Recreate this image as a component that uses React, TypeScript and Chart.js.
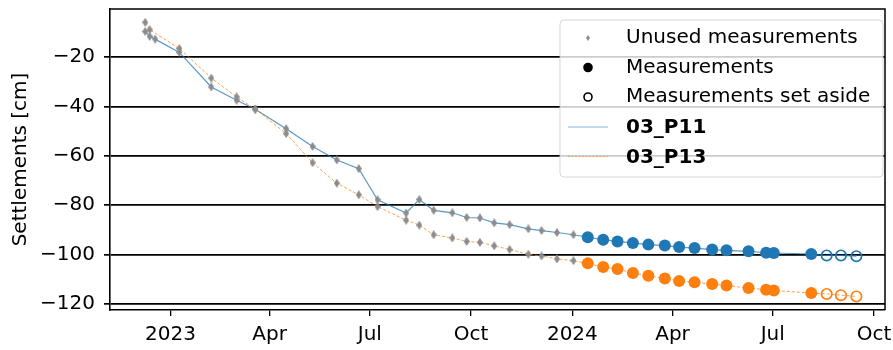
import { useEffect, useRef } from 'react';
import { Chart, registerables } from 'chart.js';

Chart.register(...registerables);

const FONT = "'DejaVu Sans', 'Liberation Sans', sans-serif";
const FS = 20;

// ---------- data ----------
const xTickDates = ['2023-01-01', '2023-04-01', '2023-07-01', '2023-10-01', '2024-01-01', '2024-04-01', '2024-07-01', '2024-10-01'];
const xTickLabels = ['2023', 'Apr', 'Jul', 'Oct', '2024', 'Apr', 'Jul', 'Oct'];
const yTickValues = [-120, -100, -80, -60, -40, -20];
const xRange = ['2022-11-07', '2024-10-11'];
const yRange = [-122.5, -0.5];

const p11Dates = [
  '2022-12-09', '2022-12-13', '2022-12-18', '2023-01-09', '2023-02-07', '2023-03-02', '2023-03-19',
  '2023-04-16', '2023-05-10', '2023-06-01', '2023-06-21', '2023-07-08', '2023-08-03', '2023-08-15',
  '2023-08-28', '2023-09-14', '2023-09-27', '2023-10-09', '2023-10-22', '2023-11-05', '2023-11-22',
  '2023-12-04', '2023-12-18', '2024-01-02',
  '2024-01-15', '2024-01-29', '2024-02-11', '2024-02-25', '2024-03-10', '2024-03-25', '2024-04-07',
  '2024-04-21', '2024-05-07', '2024-05-20', '2024-06-09', '2024-06-25', '2024-07-02', '2024-08-05',
  '2024-08-19', '2024-09-01', '2024-09-15',
];
const p11Values = [
  -9.6, -11.6, -12.7, -18.1, -32.1, -37.5, -41.1,
  -49.0, -56.2, -61.7, -65.2, -77.8, -83.2, -77.7,
  -82.1, -83.1, -85.0, -85.2, -87.2, -87.9, -89.6,
  -90.3, -91.1, -92.0,
  -93.0, -94.0, -94.7, -95.3, -96.0, -96.4, -97.0,
  -97.4, -98.0, -98.3, -98.7, -99.3, -99.4, -99.8,
  -100.4, -100.4, -100.7,
];
const p13Dates = [
  '2022-12-09', '2022-12-13', '2023-01-09', '2023-02-07', '2023-03-02', '2023-03-19',
  '2023-04-16', '2023-05-10', '2023-06-01', '2023-06-21', '2023-07-08', '2023-08-03', '2023-08-15',
  '2023-08-28', '2023-09-14', '2023-09-27', '2023-10-09', '2023-10-22', '2023-11-05', '2023-11-22',
  '2023-12-04', '2023-12-18', '2024-01-02',
  '2024-01-15', '2024-01-29', '2024-02-11', '2024-02-25', '2024-03-10', '2024-03-25', '2024-04-07',
  '2024-04-21', '2024-05-07', '2024-05-20', '2024-06-09', '2024-06-25', '2024-07-02', '2024-08-05',
  '2024-08-19', '2024-09-01', '2024-09-15',
];
const p13Values = [
  -5.9, -8.9, -16.5, -28.5, -36.1, -41.1,
  -51.0, -62.8, -71.1, -75.8, -80.6, -86.1, -88.1,
  -92.0, -93.3, -94.7, -95.1, -96.5, -98.0, -99.9,
  -100.6, -101.8, -102.5,
  -103.6, -105.1, -105.9, -107.5, -108.6, -109.7, -110.7,
  -111.3, -112.0, -112.6, -113.6, -114.3, -114.6, -115.6,
  -116.0, -116.5, -117.0,
];
const p11UnusedCount = 24;
const p13UnusedCount = 23;
const setAsideCount = 3;

const legendLabels = ['Unused measurements', 'Measurements', 'Measurements set aside', '03_P11', '03_P13'];
const axisTitle = 'Settlements [cm]';

// ---------- styles ----------
const BLUE = '#1f77b4';
const ORANGE = '#ff7f0e';
const GRAY = '#8c8c8c';

const toMs = (s: string) => Date.parse(s + 'T00:00:00Z');
const pts = (dates: string[], values: number[]) => dates.map((d, i) => ({ x: toMs(d), y: values[i] }));

function makeDiamond(w: number, h: number, color: string) {
  const c = document.createElement('canvas');
  c.width = w;
  c.height = h;
  const g = c.getContext('2d')!;
  g.fillStyle = color;
  g.beginPath();
  g.moveTo(w / 2, 0);
  g.lineTo(w, h / 2);
  g.lineTo(w / 2, h);
  g.lineTo(0, h / 2);
  g.closePath();
  g.fill();
  return c;
}

const framePlugin = {
  id: 'frame',
  afterDatasetsDraw(chart: any) {
    const { ctx, chartArea: a } = chart;
    ctx.save();
    ctx.strokeStyle = '#000';
    ctx.lineWidth = 1.5;
    ctx.beginPath();
    ctx.moveTo(a.left, a.top);
    ctx.lineTo(a.right, a.top);
    ctx.lineTo(a.right, a.bottom);
    ctx.stroke();
    ctx.restore();
  },
};

const legendPlugin = {
  id: 'customLegend',
  afterDraw(chart: any) {
    const { ctx } = chart;
    const bx = 560, by = 20, bw = 323, bh = 157, r = 4;
    ctx.save();
    ctx.beginPath();
    ctx.moveTo(bx + r, by);
    ctx.lineTo(bx + bw - r, by);
    ctx.quadraticCurveTo(bx + bw, by, bx + bw, by + r);
    ctx.lineTo(bx + bw, by + bh - r);
    ctx.quadraticCurveTo(bx + bw, by + bh, bx + bw - r, by + bh);
    ctx.lineTo(bx + r, by + bh);
    ctx.quadraticCurveTo(bx, by + bh, bx, by + bh - r);
    ctx.lineTo(bx, by + r);
    ctx.quadraticCurveTo(bx, by, bx + r, by);
    ctx.closePath();
    ctx.fillStyle = 'rgba(255,255,255,0.8)';
    ctx.fill();
    ctx.strokeStyle = 'rgba(204,204,204,0.8)';
    ctx.lineWidth = 1;
    ctx.stroke();

    const rows = [38, 67.5, 97, 128, 157.5];
    const mx = 588;
    // markers
    ctx.fillStyle = GRAY;
    ctx.beginPath();
    ctx.moveTo(mx, rows[0] - 3);
    ctx.lineTo(mx + 2, rows[0]);
    ctx.lineTo(mx, rows[0] + 3);
    ctx.lineTo(mx - 2, rows[0]);
    ctx.closePath();
    ctx.fill();

    ctx.fillStyle = '#000';
    ctx.beginPath();
    ctx.arc(mx, rows[1], 4.8, 0, Math.PI * 2);
    ctx.fill();

    ctx.strokeStyle = '#000';
    ctx.lineWidth = 1.6;
    ctx.beginPath();
    ctx.arc(mx, rows[2], 4, 0, Math.PI * 2);
    ctx.stroke();

    ctx.strokeStyle = 'rgba(31,119,180,0.55)';
    ctx.lineWidth = 1.2;
    ctx.beginPath();
    ctx.moveTo(568, rows[3] - 1);
    ctx.lineTo(608, rows[3] - 1);
    ctx.stroke();

    ctx.strokeStyle = 'rgba(255,127,14,0.6)';
    ctx.setLineDash([2, 1.5]);
    ctx.beginPath();
    ctx.moveTo(568, rows[4] - 1);
    ctx.lineTo(608, rows[4] - 1);
    ctx.stroke();
    ctx.setLineDash([]);

    // labels
    ctx.fillStyle = '#000';
    ctx.textAlign = 'left';
    ctx.textBaseline = 'middle';
    legendLabels.forEach((t, i) => {
      ctx.font = (i >= 3 ? 'bold ' : '') + FS + 'px ' + FONT;
      ctx.fillText(t, 626, rows[i]);
    });
    ctx.restore();
  },
};

export default function App() {
  const ref = useRef<HTMLCanvasElement | null>(null);

  useEffect(() => {
    if (!ref.current) return;
    const diamond = makeDiamond(6, 9, GRAY);
    const p11 = pts(p11Dates, p11Values);
    const p13 = pts(p13Dates, p13Values);
    const p11Used = p11.slice(p11UnusedCount, p11.length - setAsideCount);
    const p13Used = p13.slice(p13UnusedCount, p13.length - setAsideCount);
    const p11Aside = p11.slice(p11.length - setAsideCount);
    const p13Aside = p13.slice(p13.length - setAsideCount);
    const unused = [...p11.slice(0, p11UnusedCount), ...p13.slice(0, p13UnusedCount)];

    const chart = new Chart(ref.current, {
      type: 'scatter',
      data: {
        datasets: [
          {
            label: '03_P11',
            data: p11,
            showLine: true,
            borderColor: 'rgba(31,119,180,0.75)',
            borderWidth: 1.2,
            pointRadius: 0,
            order: 5,
          },
          {
            label: '03_P13',
            data: p13,
            showLine: true,
            borderColor: 'rgba(255,127,14,0.75)',
            borderWidth: 1,
            borderDash: [3, 2],
            pointRadius: 0,
            order: 4,
          },
          {
            label: 'unused',
            data: unused,
            pointStyle: diamond as any,
            pointRadius: 4,
            order: 3,
          },
          {
            label: 'p11 used',
            data: p11Used,
            pointRadius: 6,
            backgroundColor: BLUE,
            borderColor: BLUE,
            borderWidth: 0,
            order: 2,
          },
          {
            label: 'p13 used',
            data: p13Used,
            pointRadius: 6,
            backgroundColor: ORANGE,
            borderColor: ORANGE,
            borderWidth: 0,
            order: 2,
          },
          {
            label: 'p11 aside',
            data: p11Aside,
            pointRadius: 5.2,
            backgroundColor: 'rgba(0,0,0,0)',
            borderColor: BLUE,
            borderWidth: 1.7,
            order: 1,
          },
          {
            label: 'p13 aside',
            data: p13Aside,
            pointRadius: 5.2,
            backgroundColor: 'rgba(0,0,0,0)',
            borderColor: ORANGE,
            borderWidth: 1.7,
            order: 1,
          },
        ],
      },
      options: {
        responsive: false,
        animation: false,
        devicePixelRatio: 1,
        layout: { padding: { top: 9, right: 8, left: 0, bottom: 0 } },
        plugins: { legend: { display: false }, tooltip: { enabled: false } },
        scales: {
          x: {
            type: 'linear',
            min: toMs(xRange[0]),
            max: toMs(xRange[1]),
            afterBuildTicks: (s: any) => {
              s.ticks = xTickDates.map((d) => ({ value: toMs(d) }));
            },
            afterFit: (s: any) => {
              s.height = 40;
              s.paddingLeft = 0;
              s.paddingRight = 0;
            },
            ticks: {
              autoSkip: false,
              maxRotation: 0,
              minRotation: 0,
              padding: 7,
              color: '#000',
              font: { family: FONT, size: FS },
              callback: (_v: any, i: number) => xTickLabels[i],
            },
            grid: { drawOnChartArea: false, drawTicks: true, tickLength: 6, color: '#000', lineWidth: 1.3 },
            border: { display: true, color: '#000', width: 1.6 },
          },
          y: {
            type: 'linear',
            min: yRange[0],
            max: yRange[1],
            afterBuildTicks: (s: any) => {
              s.ticks = yTickValues.map((v) => ({ value: v }));
            },
            afterFit: (s: any) => {
              s.width = 110;
              s.paddingTop = 0;
              s.paddingBottom = 0;
            },
            ticks: {
              padding: 9,
              color: '#000',
              font: { family: FONT, size: FS },
              callback: (v: any) => (v < 0 ? '\u2212' : '') + Math.abs(v),
            },
            grid: { color: '#000', lineWidth: 1.7, tickLength: 6, drawTicks: true },
            border: { display: true, color: '#000', width: 1.6 },
            title: {
              display: true,
              text: axisTitle,
              color: '#000',
              font: { family: FONT, size: FS },
              padding: { top: 9, bottom: 0 },
            },
          },
        },
      },
      plugins: [framePlugin, legendPlugin],
    });
    return () => chart.destroy();
  }, []);

  return (
    <div style={{ position: 'absolute', left: 0, top: 0, width: 893, height: 350, background: '#fff' }}>
      <canvas ref={ref} width={893} height={350} style={{ width: 893, height: 350, display: 'block' }} />
    </div>
  );
}
